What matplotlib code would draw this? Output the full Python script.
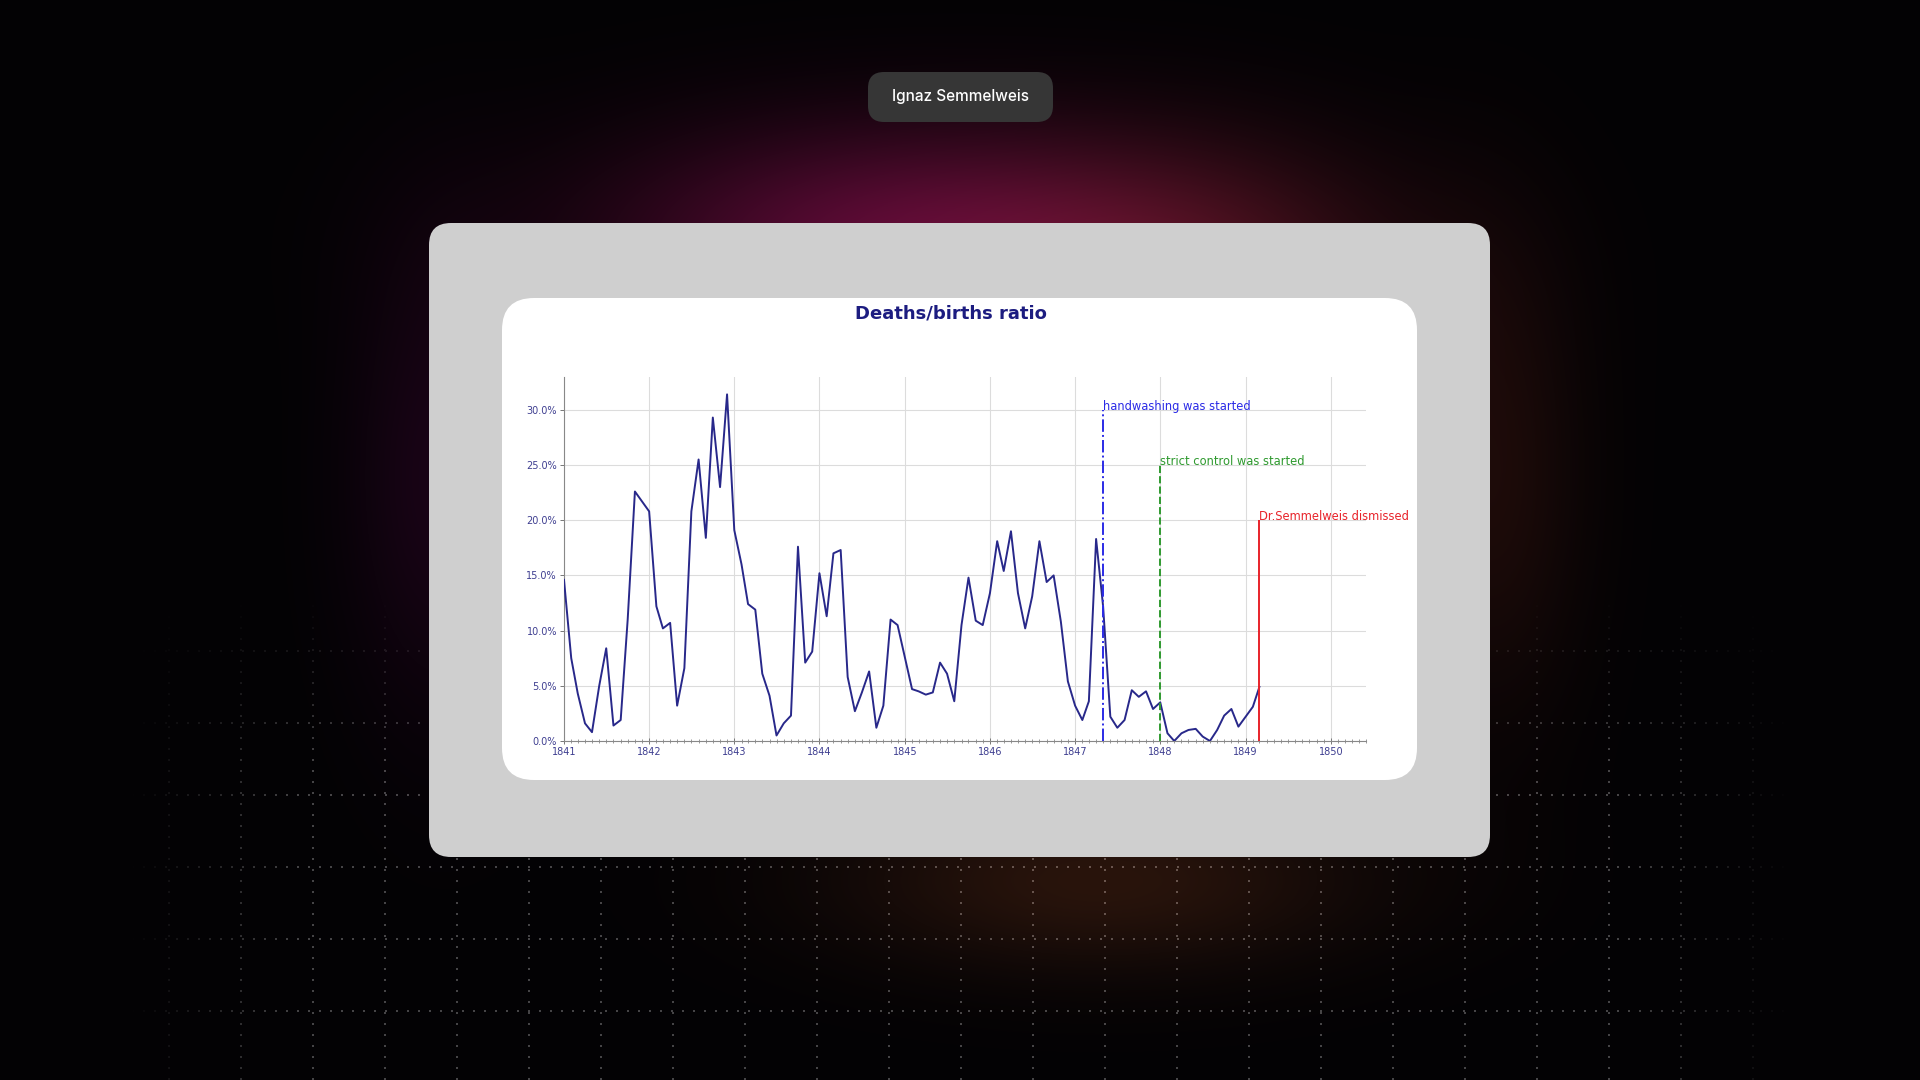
import numpy as np
import pandas as pd
import matplotlib
matplotlib.use("Agg")
import matplotlib.pyplot as plt
import matplotlib.dates as mdates
from matplotlib.patches import FancyBboxPatch
from matplotlib.ticker import PercentFormatter, MultipleLocator

# monthly deaths/births ratio, first clinic (Dec 1841 has no record)
months = pd.date_range("1841-01-01", "1849-03-01", freq="MS")
months = months[months != pd.Timestamp("1841-12-01")]

ratio = [
    0.146, 0.075, 0.043, 0.016, 0.008, 0.050, 0.084, 0.014, 0.019, 0.110, 0.226,
    0.208, 0.122, 0.102, 0.107, 0.032, 0.066, 0.208, 0.255, 0.184, 0.293, 0.230, 0.314,
    0.191, 0.160, 0.124, 0.119, 0.061, 0.041, 0.005, 0.016, 0.023, 0.176, 0.071, 0.081,
    0.152, 0.113, 0.170, 0.173, 0.058, 0.027, 0.044, 0.063, 0.012, 0.032, 0.110, 0.105,
    0.076, 0.047, 0.045, 0.042, 0.044, 0.071, 0.061, 0.036, 0.105, 0.148, 0.109, 0.105,
    0.134, 0.181, 0.154, 0.190, 0.134, 0.102, 0.131, 0.181, 0.144, 0.150, 0.108, 0.054,
    0.032, 0.019, 0.036, 0.183, 0.122, 0.022, 0.012, 0.019, 0.046, 0.040, 0.045, 0.029,
    0.035, 0.007, 0.000, 0.007, 0.010, 0.011, 0.004, 0.000, 0.010, 0.023, 0.029, 0.013,
    0.022, 0.031, 0.049,
]

event_dates = ["1847-05-01", "1848-01-01", "1849-03-01"]
event_labels = ["handwashing was started", "strict control was started", "Dr.Semmelweis dismissed"]
event_tops = [0.30, 0.25, 0.20]
event_colors = ["#2b2be6", "#2f9a2f", "#e8232a"]
event_styles = ["-.", "--", "-"]

W, H = 1920, 1080

# ---- background: dark with soft glows and a faded dotted grid
yy, xx = np.mgrid[0:H, 0:W].astype(float)

def glow(cx, cy, sx, sy):
    return np.exp(-(((xx - cx) / sx) ** 2 + ((yy - cy) / sy) ** 2))

bg = np.zeros((H, W, 3)) + np.array([3, 2, 4]) / 255
glows = [
    (900, 240, 290, 115, (85, 8, 48)),
    (1180, 270, 220, 125, (55, 14, 16)),
    (1100, 880, 260, 90, (38, 18, 8)),
    (440, 480, 90, 230, (22, 2, 18)),
    (1490, 480, 90, 230, (26, 9, 5)),
]
for cx, cy, sx, sy, col in glows:
    bg += glow(cx, cy, sx, sy)[..., None] * np.array(col) / 255

vert = ((xx - 24) % 72 < 2) & (yy % 11 < 2)
horiz = ((yy - 2) % 72 < 2) & (xx % 11 < 2)
fade = np.clip((830 - np.abs(xx - 960)) / 170, 0, 1) * np.clip((yy - 600) / 170, 0, 1)
bg += ((vert | horiz) * fade)[..., None] * 0.26
bg = np.clip(bg, 0, 1)

fig = plt.figure(figsize=(19.2, 10.8), dpi=100)
bga = fig.add_axes([0, 0, 1, 1])
bga.imshow(bg, extent=(0, W, H, 0), aspect="auto", interpolation="nearest")
bga.set_xlim(0, W)
bga.set_ylim(H, 0)
bga.axis("off")

bga.add_patch(FancyBboxPatch((868, 72), 185, 50, boxstyle="round,pad=0,rounding_size=16",
                             fc="#363636", ec="none"))
bga.text(960, 97, "Ignaz Semmelweis", color="white", fontsize=11, family="Inter",
         fontweight="medium", ha="center", va="center")
bga.add_patch(FancyBboxPatch((429, 223), 1061, 634, boxstyle="round,pad=0,rounding_size=22",
                             fc="#cfcfcf", ec="none"))
bga.add_patch(FancyBboxPatch((502, 298), 915, 482, boxstyle="round,pad=0,rounding_size=32",
                             fc="white", ec="none"))
bga.text(951, 313, "Deaths/births ratio", color="#1c1c80", fontsize=13,
         fontweight="bold", ha="center", va="center")

# ---- chart
ax = fig.add_axes([564 / W, 1 - 741 / H, (1366 - 564) / W, (741 - 376.7) / H])
ax.plot(months, ratio, color="#28288a", lw=1.4, zorder=3)

for d, lab, top, c, ls in zip(event_dates, event_labels, event_tops, event_colors, event_styles):
    d = pd.Timestamp(d)
    ax.vlines(d, 0, top, colors=c, linestyles=ls, lw=1.4, zorder=4)
    ax.text(d, top, lab, color=c, fontsize=8.3, ha="left", va="baseline", zorder=5)

ax.set_xlim(pd.Timestamp("1841-01-01"), pd.Timestamp("1850-06-01"))
ax.set_ylim(0, 0.33)
ax.xaxis.set_major_locator(mdates.YearLocator())
ax.xaxis.set_major_formatter(mdates.DateFormatter("%Y"))
ax.xaxis.set_minor_locator(mdates.MonthLocator())
ax.yaxis.set_major_locator(MultipleLocator(0.05))
ax.yaxis.set_major_formatter(PercentFormatter(xmax=1, decimals=1))

ax.tick_params(which="major", labelsize=7, labelcolor="#3e3e90", color="#777777",
               length=3, width=0.7, pad=2)
ax.tick_params(axis="x", which="major", direction="inout", length=4)
ax.tick_params(axis="x", which="minor", direction="inout", length=2.5, width=0.6, color="#888888")
ax.grid(True, which="major", color="#dcdcdc", lw=0.8)
ax.set_axisbelow(True)
for s in ["top", "right"]:
    ax.spines[s].set_visible(False)
for s in ["left", "bottom"]:
    ax.spines[s].set_color("#888888")
    ax.spines[s].set_linewidth(0.8)

fig.savefig("out.png", dpi=100)
